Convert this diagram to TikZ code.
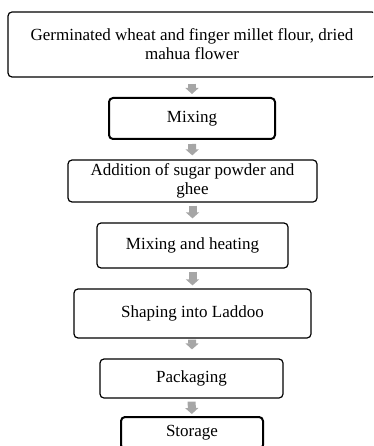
\documentclass[tikz,border=0pt]{standalone}
\usepackage{fontspec}
\setmainfont{Liberation Serif}
\usepackage{xcolor}
\usetikzlibrary{arrows.meta}

\definecolor{arrowgray}{RGB}{166,166,166}

\tikzset{
  stepbox/.style={draw=black,line width=1.2pt,rounded corners=4pt,align=center,
    inner sep=0pt,font=\fontsize{17}{19}\selectfont},
  flowarrow/.style={arrowgray,line width=8pt,-{Triangle[width=13pt,length=6pt]},
    shorten <=3pt,shorten >=3pt}
}

\begin{document}
\begin{tikzpicture}[x=1pt,y=-1pt]
\useasboundingbox (0,0) rectangle (373,446);
\begin{scope}
    \clip (0,0) rectangle (373,446);

    \node[stepbox,minimum width=368pt,minimum height=65pt] (src) at (192,44.5)
        {Germinated wheat and finger millet flour, dried\\mahua flower};
    \node[stepbox,line width=2pt,minimum width=166pt,minimum height=41pt] (mix) at (192,118.5) {Mixing};
    \node[stepbox,minimum width=249pt,minimum height=42pt] (sugar) at (192.5,181)
        {Addition of sugar powder and\\ghee};
    \node[stepbox,minimum width=191pt,minimum height=45pt] (heat) at (192.5,245.5) {Mixing and heating};
    \node[stepbox,minimum width=237pt,minimum height=49pt] (shape) at (192.5,313.5) {Shaping into Laddoo};
    \node[stepbox,minimum width=183pt,minimum height=39pt] (pack) at (191.5,378.5) {Packaging};
    \node[stepbox,line width=2pt,minimum width=142pt,minimum height=32pt] (store) at (192,433) {Storage};

    \draw[flowarrow,shorten <=6pt] (src) -- (mix);
    \draw[flowarrow,shorten <=4pt,shorten >=4pt] (mix) -- (sugar);
    \draw[flowarrow,shorten >=4pt] (sugar) -- (heat);
    \draw[flowarrow] (heat) -- (shape);
    \draw[flowarrow,shorten <=1pt,shorten >=9pt] (shape) -- (pack);
    \draw[flowarrow,shorten >=2pt] (pack) -- (store);

\end{scope}
\end{tikzpicture}
\end{document}
